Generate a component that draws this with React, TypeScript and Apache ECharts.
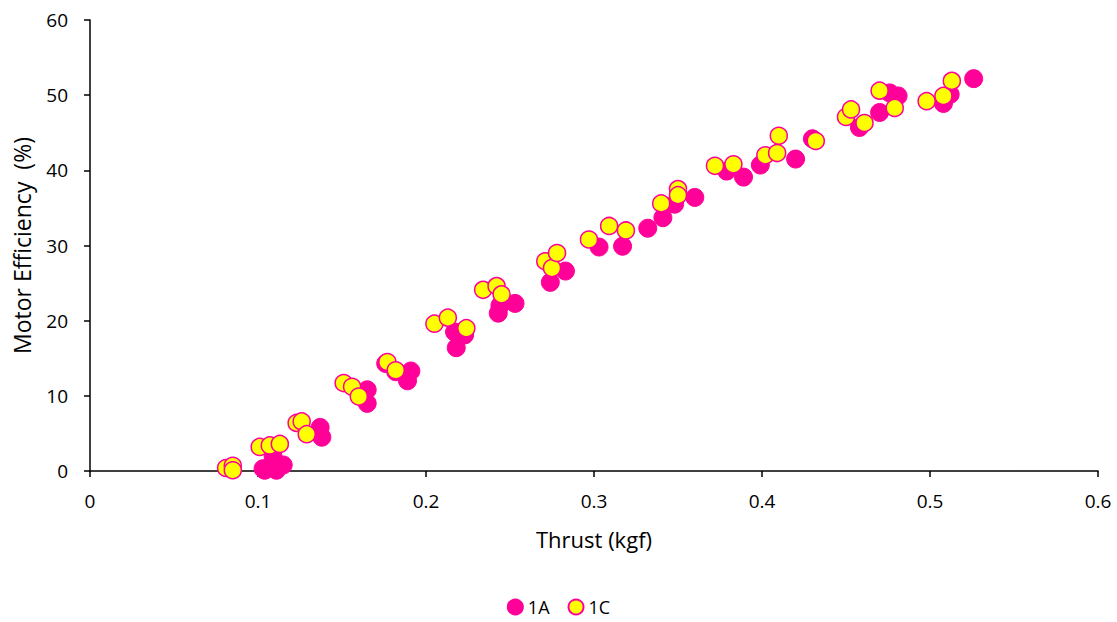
import React, { useEffect, useRef } from "react";
import * as echarts from "echarts";

const seriesNames = ["1A", "1C"];

const thrust1A = [0.103, 0.104, 0.109, 0.111, 0.115, 0.137, 0.138, 0.165, 0.165, 0.176, 0.182, 0.189, 0.191, 0.217, 0.218, 0.223, 0.243, 0.244, 0.253, 0.274, 0.283, 0.303, 0.317, 0.332, 0.341, 0.348, 0.36, 0.379, 0.389, 0.399, 0.42, 0.43, 0.458, 0.47, 0.476, 0.481, 0.508, 0.512, 0.526];
const eff1A = [0.3, 0.1, 1.9, 0.1, 0.8, 5.8, 4.5, 10.8, 9.0, 14.3, 13.2, 12.0, 13.3, 18.5, 16.4, 18.1, 21.0, 22.0, 22.3, 25.1, 26.6, 29.8, 29.9, 32.3, 33.7, 35.5, 36.4, 39.9, 39.1, 40.7, 41.5, 44.2, 45.7, 47.7, 50.3, 49.9, 48.9, 50.1, 52.2];

const thrust1C = [0.081, 0.085, 0.085, 0.101, 0.107, 0.113, 0.123, 0.126, 0.129, 0.151, 0.156, 0.16, 0.177, 0.182, 0.205, 0.213, 0.224, 0.234, 0.242, 0.245, 0.271, 0.275, 0.278, 0.297, 0.309, 0.319, 0.34, 0.35, 0.35, 0.372, 0.383, 0.402, 0.409, 0.41, 0.432, 0.45, 0.453, 0.461, 0.47, 0.479, 0.498, 0.508, 0.513];
const eff1C = [0.4, 0.7, 0.1, 3.2, 3.4, 3.6, 6.4, 6.6, 4.9, 11.7, 11.2, 9.9, 14.5, 13.4, 19.6, 20.4, 19.0, 24.1, 24.6, 23.5, 27.9, 27.0, 29.0, 30.8, 32.6, 32.0, 35.6, 37.5, 36.7, 40.6, 40.8, 42.0, 42.3, 44.6, 43.9, 47.1, 48.1, 46.3, 50.6, 48.3, 49.2, 49.9, 51.9];

const xTicks = [0, 0.1, 0.2, 0.3, 0.4, 0.5, 0.6];
const yTicks = [0, 10, 20, 30, 40, 50, 60];

const FONT = "'Open Sans', 'Noto Sans', sans-serif";
const MAGENTA = "#FF0099";
const YELLOW = "#FFFF00";

export default function App() {
  const ref = useRef<HTMLDivElement>(null);
  useEffect(() => {
    if (!ref.current) return;
    const chart = echarts.init(ref.current, undefined, { renderer: "svg" });
    const pairs = (xs: number[], ys: number[]) => xs.map((x, i) => [x, ys[i]]);
    chart.setOption({
      animation: false,
      backgroundColor: "#fff",
      grid: { left: 90, right: 19, top: 20, bottom: 151, containLabel: false },
      xAxis: {
        type: "value",
        min: xTicks[0],
        max: xTicks[xTicks.length - 1],
        interval: 0.1,
        name: "Thrust (kgf)",
        nameLocation: "middle",
        nameGap: 57,
        nameTextStyle: { fontFamily: FONT, fontSize: 22, color: "#000" },
        axisLine: { lineStyle: { color: "#000", width: 1.5 } },
        axisTick: { show: true, length: 6, inside: false, lineStyle: { color: "#000", width: 1.5 } },
        axisLabel: { fontFamily: FONT, fontSize: 19, color: "#000", margin: 20 },
        splitLine: { show: false },
      },
      yAxis: {
        type: "value",
        min: yTicks[0],
        max: yTicks[yTicks.length - 1],
        interval: 10,
        name: "Motor Efficiency  (%)",
        nameLocation: "middle",
        nameGap: 57,
        nameTextStyle: { fontFamily: FONT, fontSize: 23, color: "#000" },
        axisLine: { show: true, lineStyle: { color: "#000", width: 1.5 } },
        axisTick: { show: true, length: 6, lineStyle: { color: "#000", width: 1.5 } },
        axisLabel: { fontFamily: FONT, fontSize: 19, color: "#000", margin: 22 },
        splitLine: { show: false },
      },
      legend: {
        top: 596,
        left: "center",
        padding: 0,
        itemWidth: 15,
        itemHeight: 15,
        itemGap: 18,
        textStyle: { fontFamily: FONT, fontSize: 18, lineHeight: 22, color: "#000" },
        data: seriesNames.map((n) => ({ name: n, icon: "circle" })),
      },
      series: [
        {
          name: seriesNames[0],
          type: "scatter",
          symbol: "circle",
          symbolSize: 18,
          itemStyle: { color: MAGENTA, borderColor: MAGENTA, borderWidth: 1, opacity: 1 },
          data: pairs(thrust1A, eff1A),
        },
        {
          name: seriesNames[1],
          type: "scatter",
          symbol: "circle",
          symbolSize: 17,
          itemStyle: { color: YELLOW, borderColor: MAGENTA, borderWidth: 1.5, opacity: 1 },
          data: pairs(thrust1C, eff1C),
        },
      ],
    });
    return () => chart.dispose();
  }, []);
  return <div ref={ref} style={{ width: 1117, height: 622, position: "absolute", left: 0, top: 0 }} />;
}
